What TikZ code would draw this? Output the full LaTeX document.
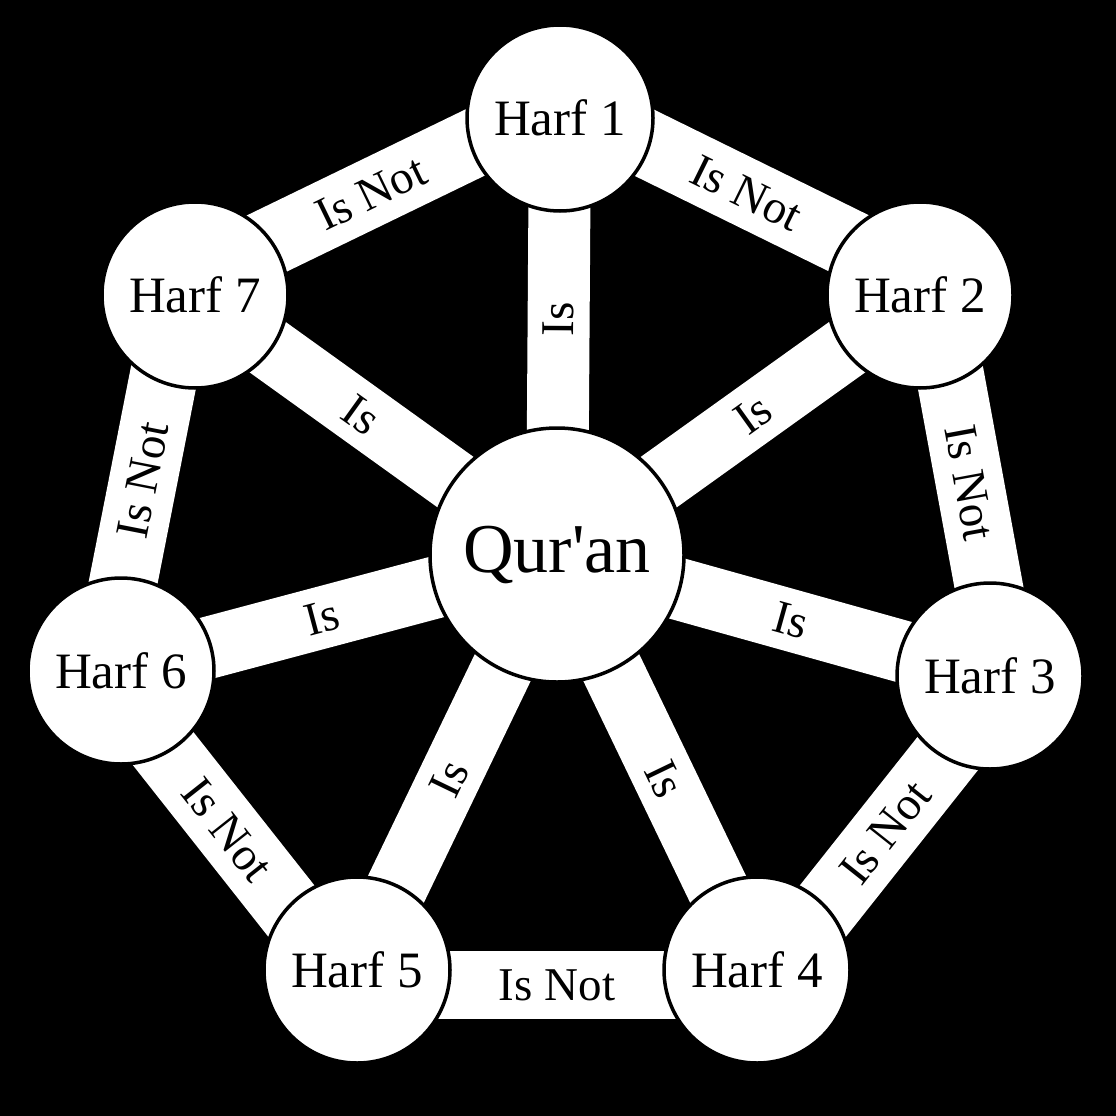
\documentclass[tikz,border=0pt]{standalone}
\usepackage{fontspec}
\setmainfont{Liberation Serif}
\newfontfamily\plainserif{Liberation Serif}
\usetikzlibrary{calc}
\pgfdeclarelayer{bg}
\pgfdeclarelayer{bars}
\pgfsetlayers{bg,bars,main}
\begin{document}
\begin{tikzpicture}[x=1pt,y=-1pt,
  harf/.style={circle, fill=white, draw=black, line width=3.5pt, minimum size=186pt, inner sep=0pt, font=\fontsize{51}{56}\selectfont},
  quran/.style={harf, minimum size=254pt, font=\plainserif\fontsize{70}{78}\selectfont},
  spoke/.style={draw=white, line width=62pt},
  rim/.style={draw=white, line width=68pt},
  lab/.style={sloped, text=black, inner sep=0pt, font=\fontsize{47}{50}\selectfont}]
\begin{pgfonlayer}{bg}
  \fill[black] (0,0) rectangle (1116,1116);
\end{pgfonlayer}
\node[quran] (q) at (557,555) {Qur'an};
\node[harf] (h1) at (560,118) {Harf 1};
\node[harf] (h2) at (920,295) {Harf 2};
\node[harf] (h3) at (990,676) {Harf 3};
\node[harf] (h4) at (757,970) {Harf 4};
\node[harf] (h5) at (357,970) {Harf 5};
\node[harf] (h6) at (121,671) {Harf 6};
\node[harf] (h7) at (195,295) {Harf 7};
\begin{pgfonlayer}{bars}
  \path[spoke] (q.center) -- node[lab,pos=0.54]{Is} (h1.center);
  \path[spoke] (q.center) -- node[lab,pos=0.54]{Is} (h2.center);
  \path[spoke] (q.center) -- node[lab,pos=0.54]{Is} (h3.center);
  \path[spoke] (q.center) -- node[lab,pos=0.54]{Is} (h4.center);
  \path[spoke] (q.center) -- node[lab,pos=0.54]{Is} (h5.center);
  \path[spoke] (q.center) -- node[lab,pos=0.54]{Is} (h6.center);
  \path[spoke] (q.center) -- node[lab,pos=0.54]{Is} (h7.center);
  \foreach \a/\b in {h1/h2,h2/h3,h3/h4,h4/h5,h5/h6,h6/h7,h7/h1}{
    \path[rim] ($(\a.center)!15pt!90:(\b.center)$) -- node[lab]{Is Not} ($(\b.center)!15pt!-90:(\a.center)$);
  }
\end{pgfonlayer}
\end{tikzpicture}
\end{document}
